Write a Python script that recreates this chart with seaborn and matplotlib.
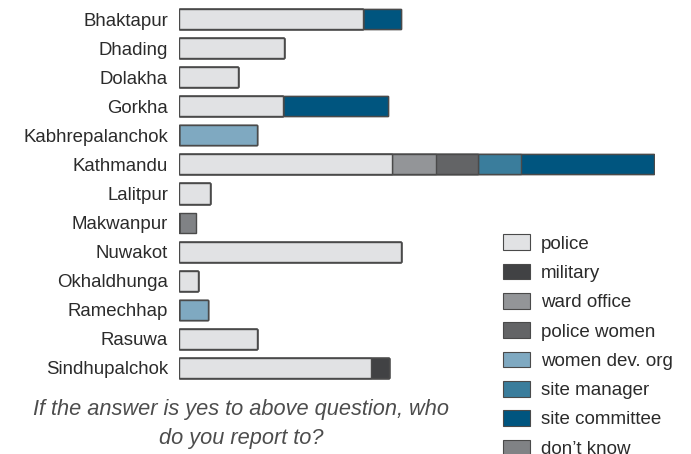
import matplotlib
matplotlib.use("Agg")
import matplotlib.pyplot as plt
from matplotlib.patches import Patch
import seaborn as sns
import pandas as pd
import numpy as np

districts = ["Bhaktapur", "Dhading", "Dolakha", "Gorkha", "Kabhrepalanchok", "Kathmandu",
             "Lalitpur", "Makwanpur", "Nuwakot", "Okhaldhunga", "Ramechhap", "Rasuwa",
             "Sindhupalchok"]
categories = ["police", "military", "ward office", "police women", "women dev. org",
              "site manager", "site committee", "don\u2019t know"]

police         = [42.7, 24.3, 13.8, 24.2, 0.0, 49.6, 7.1, 0.0, 51.7, 4.5, 0.0, 18.1, 44.7]
military       = [0.0, 0.0, 0.0, 0.0, 0.0, 0.0, 0.0, 0.0, 0.0, 0.0, 0.0, 0.0, 4.0]
ward_office    = [0.0, 0.0, 0.0, 0.0, 0.0, 10.1, 0.0, 0.0, 0.0, 0.0, 0.0, 0.0, 0.0]
police_women   = [0.0, 0.0, 0.0, 0.0, 0.0, 9.9, 0.0, 0.0, 0.0, 0.0, 0.0, 0.0, 0.0]
women_dev_org  = [0.0, 0.0, 0.0, 0.0, 18.1, 0.0, 0.0, 0.0, 0.0, 0.0, 6.7, 0.0, 0.0]
site_manager   = [0.0, 0.0, 0.0, 0.0, 0.0, 9.9, 0.0, 0.0, 0.0, 0.0, 0.0, 0.0, 0.0]
site_committee = [8.8, 0.0, 0.0, 24.3, 0.0, 30.9, 0.0, 0.0, 0.0, 0.0, 0.0, 0.0, 0.0]
dont_know      = [0.0, 0.0, 0.0, 0.0, 0.0, 0.0, 0.0, 4.0, 0.0, 0.0, 0.0, 0.0, 0.0]

colors = ["#e1e2e4", "#414244", "#939598", "#636466", "#7fa9c1", "#3a7d9c", "#00557f", "#808285"]

series = [police, military, ward_office, police_women, women_dev_org,
          site_manager, site_committee, dont_know]

df = pd.DataFrame(np.array(series).T, columns=categories)
df["district"] = districts
cum = df[categories].cumsum(axis=1)
cum["district"] = districts

sns.set_style("white")
plt.rcParams["font.family"] = ["Liberation Sans", "DejaVu Sans"]

fig = plt.figure(figsize=(6.91, 4.54), dpi=100)
W, H = 691, 454
left_px, right_px, top_px, bot_px = 179, 655, 4.5, 382.5
ax = fig.add_axes([left_px / W, 1 - bot_px / H, (right_px - left_px) / W, (bot_px - top_px) / H])

for cat, col in reversed(list(zip(categories, colors))):
    sns.barplot(data=cum, x=cat, y="district", orient="h", color=col, saturation=1,
                width=0.69, edgecolor="#4a4a4a", linewidth=1.0, ax=ax)

total = cum[categories[-1]].max()
ax.set_xlim(0, total * 1.002)
ax.set_ylim(12.5, -0.5)
ax.set_xlabel("")
ax.set_ylabel("")
ax.set_xticks([])
for s in ax.spines.values():
    s.set_visible(False)
ax.tick_params(axis="y", length=0, pad=8, labelsize=13.4, labelcolor="#2b2b2b")

handles = [Patch(facecolor=c, edgecolor="#4a4a4a", linewidth=0.8, label=l)
           for c, l in zip(colors, categories)]
fig.legend(handles=handles, loc="upper left", bbox_to_anchor=(494 / W, 1 - 225 / H),
           frameon=False, fontsize=13.5, handlelength=1.44, handleheight=0.9,
           handletextpad=0.55, labelspacing=0.59, borderpad=0, labelcolor="#2b2b2b")

fig.text(241 / W, 1 - 424 / H, "If the answer is yes to above question, who\ndo you report to?",
         ha="center", va="center", fontsize=15.7, style="italic", color="#4d4d4d",
         linespacing=1.45)

fig.savefig("out.png", dpi=100)
